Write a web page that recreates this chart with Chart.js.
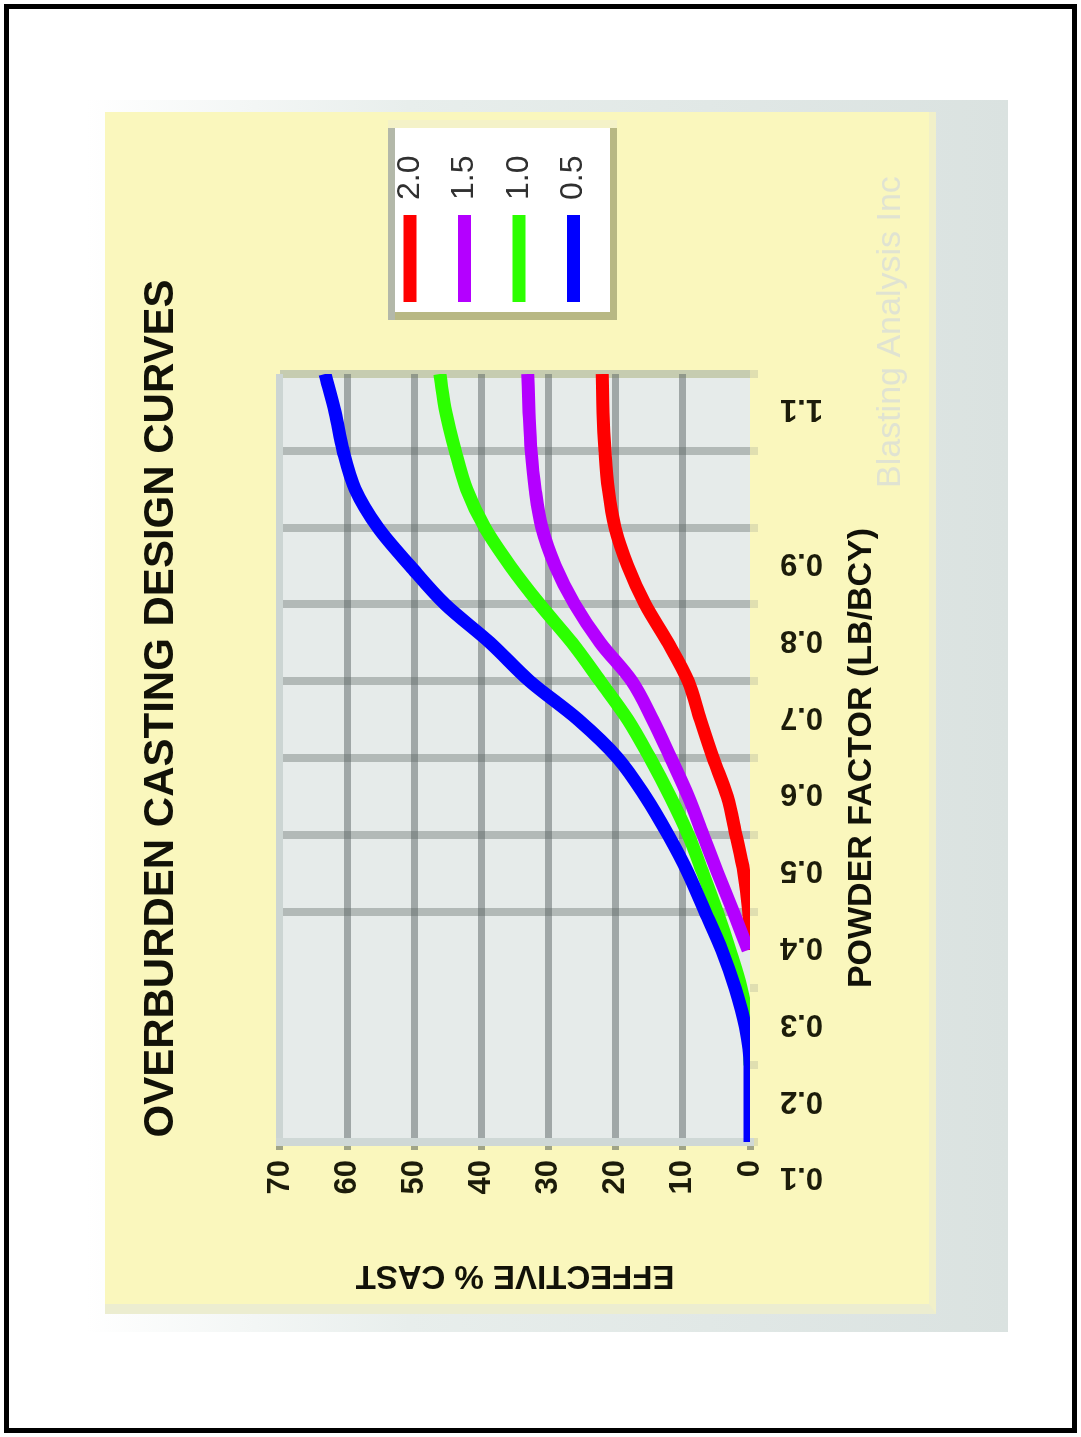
<!DOCTYPE html>
<html><head><meta charset="utf-8">
<script src="https://cdn.jsdelivr.net/npm/chart.js@4.4.1/dist/chart.umd.min.js"></script>
<style>
html,body{margin:0;padding:0;background:#fff;overflow:hidden;width:1081px;height:1437px;}
#frame{position:absolute;left:4px;top:4px;width:1073px;height:1429px;border:5px solid #000;box-sizing:border-box;}
#shadow{position:absolute;left:86px;top:100px;width:922px;height:1232px;background:linear-gradient(to right,#ffffff 0%,#e8eeec 35%,#dae2e0 100%);}
#panel{position:absolute;left:105px;top:112px;width:824px;height:1192px;background:#faf7bd;border-right:7px solid #f1f0c9;border-bottom:10px solid #ecedd0;}
#wrap{position:absolute;left:-79px;top:296px;width:1193px;height:825px;transform:rotate(-90deg);transform-origin:50% 50%;}
</style></head><body>
<div id="frame"></div>
<div id="shadow"></div>
<div id="panel"></div>
<div id="wrap"><canvas id="c" width="1193" height="825"></canvas></div>
<script>
// ---- data ----
const powderFactor = [0.10,0.15,0.20,0.25,0.30,0.35,0.40,0.45,0.50,0.55,0.60,0.65,0.70,0.75,0.80,0.85,0.90,0.95,1.00,1.05,1.10];
const castRed    = [null,null,null,null,null,0,0.2,0.9,2.1,3.4,5.5,7.4,9.2,12.2,15.6,18.2,20.1,21.1,21.6,21.9,22.0];
const castPurple = [null,null,null,null,null,0.3,2.5,4.8,7.0,9.2,11.8,14.5,17.6,22.3,26.1,29.0,31.0,32.0,32.6,32.9,33.1];
const castGreen  = [null,null,0,0.3,1.3,3.0,4.9,7.0,9.2,11.9,14.9,18.2,22.3,26.5,31.3,35.7,39.5,42.2,43.9,45.3,46.2];
const castBlue   = [0,0,0,0.7,2.2,4.2,6.7,9.2,12.2,15.6,19.7,25.6,32.8,38.7,45.4,50.6,55.4,58.8,60.6,61.8,63.3];
const seriesNames  = ['2.0','1.5','1.0','0.5'];
const seriesColors = ['#ff0000','#b400ff','#2cff00','#0000ff'];
const castTicks    = [0,10,20,30,40,50,60,70];
const pfTicks      = [0.1,0.2,0.3,0.4,0.5,0.6,0.7,0.8,0.9,1.0,1.1];
const pfTickLabels = ['0.1','0.2','0.3','0.4','0.5','0.6','0.7','0.8','0.9','','1.1'];
const titleText = 'OVERBURDEN CASTING DESIGN CURVES';
const xTitleText = 'POWDER FACTOR (LB/BCY)';
const yTitleText = 'EFFECTIVE % CAST';
const watermarkText = 'Blasting Analysis Inc';

// ---- fonts ----
function hasFont(name){
  const c=document.createElement('canvas').getContext('2d');
  const t='OVERBURDEN CASTING 0123456789';
  c.font='bold 40px monospace'; const a=c.measureText(t).width;
  c.font='bold 40px "'+name+'", monospace'; const b=c.measureText(t).width;
  return Math.abs(a-b)>1;
}
const narrow = hasFont('Liberation Sans Narrow');
const FAM = narrow ? '"Liberation Sans Narrow", "Liberation Sans", sans-serif' : '"Liberation Sans", Arial, sans-serif';
const K = narrow ? 1 : 0.82;
const F = (s,w) => ({family:FAM, size:Math.round(s*K), weight:w||'bold', lineHeight:1.2});

const titleFont = F(51);
const titleLH = titleFont.size*1.2;
const titlePadTop = 56.5 - titleLH/2;
const titlePadBottom = 175 - titlePadTop - titleLH;

const sets = [castRed, castPurple, castGreen, castBlue].map((arr,i)=>({
  label: seriesNames[i],
  data: powderFactor.map((p,j)=>({x:p, y:arr[j]})),
  borderColor: seriesColors[i],
  backgroundColor: seriesColors[i],
  borderWidth: 13,
  pointRadius: 0,
  fill: false,
  cubicInterpolationMode: 'monotone',
  spanGaps: false,
  order: 4-i
}));

const plotBg = {id:'plotBg', beforeDraw(c){
  const a=c.chartArea, x=c.ctx; x.save(); x.fillStyle='#e6ebea';
  x.fillRect(a.left,a.top,a.right-a.left,a.bottom-a.top); x.restore();
}};
const legendBox = {id:'legendBox', afterDraw(c){
  const a=c.chartArea, x=c.ctx;
  const bx=a.right+54, by=a.top+108, bw=192, bh=229;
  x.save();
  x.fillStyle='#b8b884'; x.fillRect(bx,by,bw,bh);
  x.fillStyle='#b3b8a9'; x.fillRect(bx,by,bw,7);
  x.fillStyle='#f4f2c8'; x.fillRect(bx+bw,by,8,bh);
  x.fillStyle='#ffffff'; x.fillRect(bx+8,by+7,bw-8,bh-14);
  c.data.datasets.forEach((d,i)=>{
    const yy = by+22+i*54.5;
    x.strokeStyle=d.borderColor; x.lineWidth=13; x.lineCap='butt';
    x.beginPath(); x.moveTo(bx+18,yy); x.lineTo(bx+105,yy); x.stroke();
    x.fillStyle='#303030'; x.font='32px "Liberation Sans", Arial, sans-serif';
    x.textBaseline='middle'; x.textAlign='left';
    x.fillText(d.label, bx+120, yy);
  });
  x.restore();
}};
const watermark = {id:'watermark', afterDraw(c){
  const a=c.chartArea, x=c.ctx; x.save();
  x.fillStyle='#e0e3d2'; x.font='34px "Liberation Sans", Arial, sans-serif';
  x.textBaseline='middle'; x.textAlign='left';
  x.fillText(watermarkText, a.right-114, 786);
  x.restore();
}};

new Chart(document.getElementById('c'), {
  type:'line',
  data:{datasets:sets},
  plugins:[plotBg, legendBox, watermark],
  options:{
    responsive:false, animation:false, devicePixelRatio:1,
    layout:{padding:{left:0,right:0,top:0,bottom:0}},
    plugins:{
      legend:{display:false}, tooltip:{enabled:false},
      title:{display:true, text:titleText, color:'#121208', font:titleFont,
             padding:{top:titlePadTop, bottom:titlePadBottom}}
    },
    scales:{
      x:{
        type:'linear', min:0.1, max:1.1,
        afterBuildTicks(s){ s.ticks = pfTicks.map(v=>({value:v})); },
        afterFit(s){ s.height = 180; },
        ticks:{ autoSkip:false, minRotation:90, maxRotation:90, labelOffset:-35, padding:22,
                color:'#1c1c0a', font:F(38),
                callback:(v,i)=>pfTickLabels[i] },
        grid:{ lineWidth:8, tickLength:8, tickColor:'#e0dfb0',
               color:(ctx)=>{ const v=ctx.tick?ctx.tick.value:0;
                  if (v<0.15) return '#d0d8d6';
                  if (v<0.35) return 'rgba(0,0,0,0)';
                  if (v>1.05) return '#c6ccb0';
                  return 'rgba(95,105,100,0.38)'; } },
        border:{display:false},
        title:{display:true, text:xTitleText, color:'#121208', font:F(41),
               padding:{top:0,bottom:825-757-F(41).size*0.6}}
      },
      y:{
        type:'linear', min:0, max:70,
        afterBuildTicks(s){ s.ticks = castTicks.map(v=>({value:v})); },
        afterFit(s){ s.width = 163; },
        ticks:{ padding:10, color:'#1c1c0a', font:F(38) },
        grid:{ lineWidth:7, tickLength:8, tickColor:'#a0a486',
               color:(ctx)=>{ const v=ctx.tick?ctx.tick.value:0;
                  if (v===70) return '#ccd5d3';
                  if (v===0) return 'rgba(0,0,0,0)';
                  return 'rgba(90,100,100,0.5)'; } },
        border:{display:true, color:'#cfd8d6', width:8},
        title:{display:true, text:yTitleText, color:'#121208', font:F(40),
               padding:{top:30-F(40).size*0.6, bottom:0}}
      },
      side:{
        type:'linear', position:'right', display:true, min:0, max:1,
        afterFit(s){ s.width = 262; },
        ticks:{display:false}, grid:{display:false}, border:{display:false}
      }
    }
  }
});
</script>
</body></html>
